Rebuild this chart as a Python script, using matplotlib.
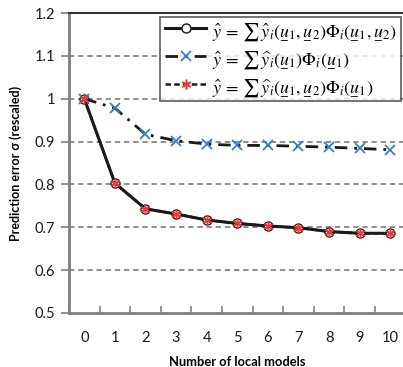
import numpy as np
import matplotlib
matplotlib.use("Agg")
import matplotlib.pyplot as plt
from matplotlib.ticker import FuncFormatter

plt.rcParams['font.family'] = ['Lato', 'DejaVu Sans']
plt.rcParams['mathtext.fontset'] = 'stix'

# data
n_models = list(range(11))
err_full = [1.0, 0.803, 0.743, 0.731, 0.717, 0.709, 0.703, 0.699, 0.690, 0.686, 0.686]
err_u1 = [1.0, 0.978, 0.917, 0.902, 0.894, 0.891, 0.891, 0.889, 0.887, 0.884, 0.881]
err_mixed = [1.0, 0.803, 0.743, 0.731, 0.717, 0.709, 0.703, 0.699, 0.690, 0.686, 0.686]

# underlined u (mathtext has no \underline)
u1 = r'\underset{\minus}{u}_1'
u2 = r'\underset{\minus}{u}_2'
lab_full = r'$\hat{y}\,=\,\sum\,\hat{y}_i(%s,%s)\Phi_i(%s,%s)$' % (u1, u2, u1, u2)
lab_u1 = r'$\hat{y}\,=\,\sum\,\widehat{y}_i(%s)\Phi_i(%s)$' % (u1, u1)
lab_mixed = r'$\hat{y}\,=\,\sum\,\widehat{y}_i(%s,%s)\Phi_i(%s)$' % (u1, u2, u1)

fig = plt.figure(figsize=(4.03, 3.67), dpi=100)
ax = fig.add_axes([69 / 403, 1 - 313 / 367, 336.5 / 403, 300 / 367])

# dashed horizontal gridlines
for yv in [0.6, 0.7, 0.8, 0.9, 1.0, 1.1]:
    ax.axhline(yv, color='#707070', lw=1.1, ls=(0, (3.5, 2.5)), zorder=1)

l1, = ax.plot(n_models, err_full, color='#1a1a1a', lw=2.2, marker='o', ms=6.5,
              mfc='white', mec='#1a1a1a', mew=1.0, zorder=3)
l2, = ax.plot(n_models, err_u1, color='#1a1a1a', lw=2.0, ls=(0, (4.5, 2.5, 1, 2.5)),
              marker='x', ms=7.5, mec='#3a7ccc', mew=1.3, zorder=3)
l3, = ax.plot(n_models, err_mixed, color='#1a1a1a', lw=1.8, ls=(0, (2.2, 1.3)),
              marker=(6, 2, 0), ms=7, mec='#e8393a', mew=1.1, zorder=4)

ax.set_xlim(-0.5, 10.5)
ax.set_ylim(0.5, 1.2)
ax.set_xticks(np.arange(-0.5, 10.6, 1.0), minor=True)
ax.set_xticks(n_models)
ax.tick_params(axis='x', which='major', length=0, pad=13, labelsize=10.5, colors='#1a1a1a')
ax.tick_params(axis='x', which='minor', length=5, direction='in', color='#7f7f7f', width=1.2)
ax.tick_params(axis='y', length=6, direction='out', color='#7f7f7f', width=1.2,
               labelsize=10.5, colors='#1a1a1a', pad=4)
ax.set_yticks(np.round(np.arange(0.5, 1.21, 0.1), 1))
ax.yaxis.set_major_formatter(FuncFormatter(lambda v, p: ('%g' % round(v, 1))))

for side in ['left', 'bottom']:
    ax.spines[side].set_color('#7f7f7f')
    ax.spines[side].set_linewidth(2.0)
ax.spines['top'].set_color('#333333')
ax.spines['top'].set_linewidth(1.5)
ax.spines['right'].set_visible(False)

ax.set_xlabel('Number of local models', fontsize=9.3, fontweight='bold', labelpad=8)
ax.set_ylabel('Prediction error σ (rescaled)', fontsize=9, fontweight='bold', labelpad=9)

leg = ax.legend([l1, l2, l3], [lab_full, lab_u1, lab_mixed], loc='upper right',
                bbox_to_anchor=((401 - 69) / 336.5, 1 - 4 / 300),
                fontsize=13, frameon=True, fancybox=False, edgecolor='#333333',
                borderpad=0.25, handlelength=2.3, handletextpad=0.3, labelspacing=0.45,
                borderaxespad=0)
leg.get_frame().set_linewidth(1.2)

fig.savefig('out.png', dpi=100)
